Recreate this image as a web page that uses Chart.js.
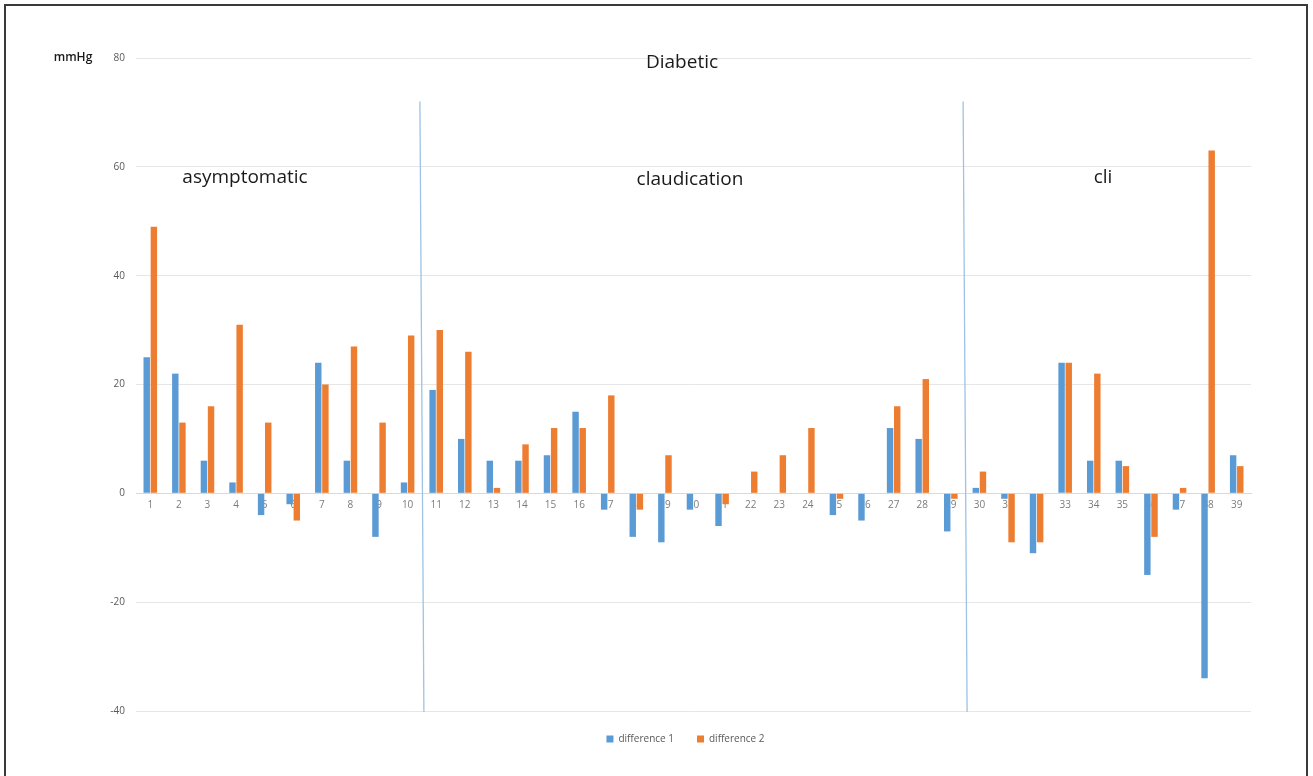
<!DOCTYPE html>
<html>
<head>
<meta charset="utf-8">
<script src="https://cdn.jsdelivr.net/npm/chart.js@4/dist/chart.umd.min.js"></script>
<style>
  html, body { margin: 0; padding: 0; background: #fff; }
  #wrap { position: relative; width: 1313px; height: 776px; overflow: hidden; }
  #frame { position: absolute; left: 4px; top: 4px; width: 1300px; height: 800px;
           border: 2px solid #3a3a3a; border-bottom: none; pointer-events: none; }
  canvas { position: absolute; left: 0; top: 0; }
</style>
</head>
<body>
<div id="wrap">
  <canvas id="barChart" width="1313" height="776"></canvas>
  <div id="frame"></div>
</div>
<script>
// patients 1..39
var pacientes = [];
for (var n = 1; n <= 39; n++) { pacientes.push(String(n)); }

var difference1 = [25, 22, 6, 2, -4, -2, 24, 6, -8, 2,
                   19, 10, 6, 6, 7, 15, -3, -8, -9, -3,
                   -6, 0, 0, 0, -4, -5, 12, 10, -7,
                   1, -1, -11, 24, 6, 6, -15, -3, -34, 7];
var difference2 = [49, 13, 16, 31, 13, -5, 20, 27, 13, 29,
                   30, 26, 1, 9, 12, 12, 18, -3, 7, 0,
                   -2, 4, 7, 12, -1, 0, 16, 21, -1,
                   4, -9, -9, 24, 22, 5, -8, 1, 63, 5];

var grupos = ["asymptomatic", "claudication", "cli"];
var titulo = "Diabetic";
var unidad = "mmHg";

// separators after patient 10 and 29
var cortes = [10, 29];

// text labels and separator lines drawn on top of the chart
var anotaciones = {
  id: 'anotaciones',
  afterLayout: function(chart) {
    // legend sits centred under the plot, not under the whole canvas
    if (chart.legend) {
      chart.legend.left += 60;
      chart.legend.right += 60;
    }
  },
  afterDatasetsDraw: function(chart) {
    var ctx = chart.ctx;
    var xs = chart.scales.x, ys = chart.scales.y;
    var area = chart.chartArea;
    ctx.save();

    ctx.strokeStyle = '#9dc3e6';
    ctx.lineWidth = 1.3;
    for (var i = 0; i < cortes.length; i++) {
      var mid = (xs.getPixelForValue(cortes[i] - 1) + xs.getPixelForValue(cortes[i])) / 2;
      ctx.beginPath();
      ctx.moveTo(mid - 2, ys.getPixelForValue(72));
      ctx.lineTo(mid + 2, area.bottom + 1);
      ctx.stroke();
    }

    ctx.fillStyle = '#1a1a1a';
    ctx.textAlign = 'center';
    ctx.textBaseline = 'middle';
    ctx.font = '19px "Open Sans", sans-serif';
    ctx.fillText(titulo, 682, 63);
    ctx.fillText(grupos[0], 245, 178);
    ctx.fillText(grupos[1], 690, 180);
    ctx.fillText(grupos[2], 1103, 178);

    ctx.font = '600 12px "Open Sans", sans-serif';
    ctx.fillText(unidad, 73, 58);
    ctx.restore();
  }
};

var ctxB = document.getElementById("barChart").getContext('2d');
var myBarChart = new Chart(ctxB, {
  type: 'bar',
  data: {
    labels: pacientes,
    datasets: [
      {
        label: "difference 1",
        data: difference1,
        backgroundColor: '#5b9bd5',
        barPercentage: 0.9,
        categoryPercentage: 0.5
      },
      {
        label: "difference 2",
        data: difference2,
        backgroundColor: '#ed7d31',
        barPercentage: 0.9,
        categoryPercentage: 0.5
      }
    ]
  },
  options: {
    responsive: false,
    animation: false,
    layout: { padding: { left: 0, right: 62, top: 58, bottom: 22 } },
    scales: {
      x: {
        position: { y: 0 },
        z: 1,
        grid: { display: false, drawTicks: false },
        border: { color: '#d9d9d9' },
        ticks: { color: 'rgba(89,89,89,0.8)', font: { size: 10, family: '"Open Sans", sans-serif' }, padding: 6, maxRotation: 0, autoSkip: false }
      },
      y: {
        min: -40,
        max: 80,
        afterFit: function(scale) { scale.width = 136; },
        grid: { color: '#e6e6e6', drawTicks: false },
        border: { display: false },
        ticks: { stepSize: 20, color: '#595959', padding: 11, font: { size: 10, family: '"Open Sans", sans-serif' } }
      }
    },
    plugins: {
      legend: {
        position: 'bottom',
        labels: { boxWidth: 7, boxHeight: 7, color: '#595959', font: { size: 10, family: '"Open Sans", sans-serif' }, padding: 23 }
      },
      tooltip: { enabled: false }
    }
  },
  plugins: [anotaciones]
});
</script>
</body>
</html>
